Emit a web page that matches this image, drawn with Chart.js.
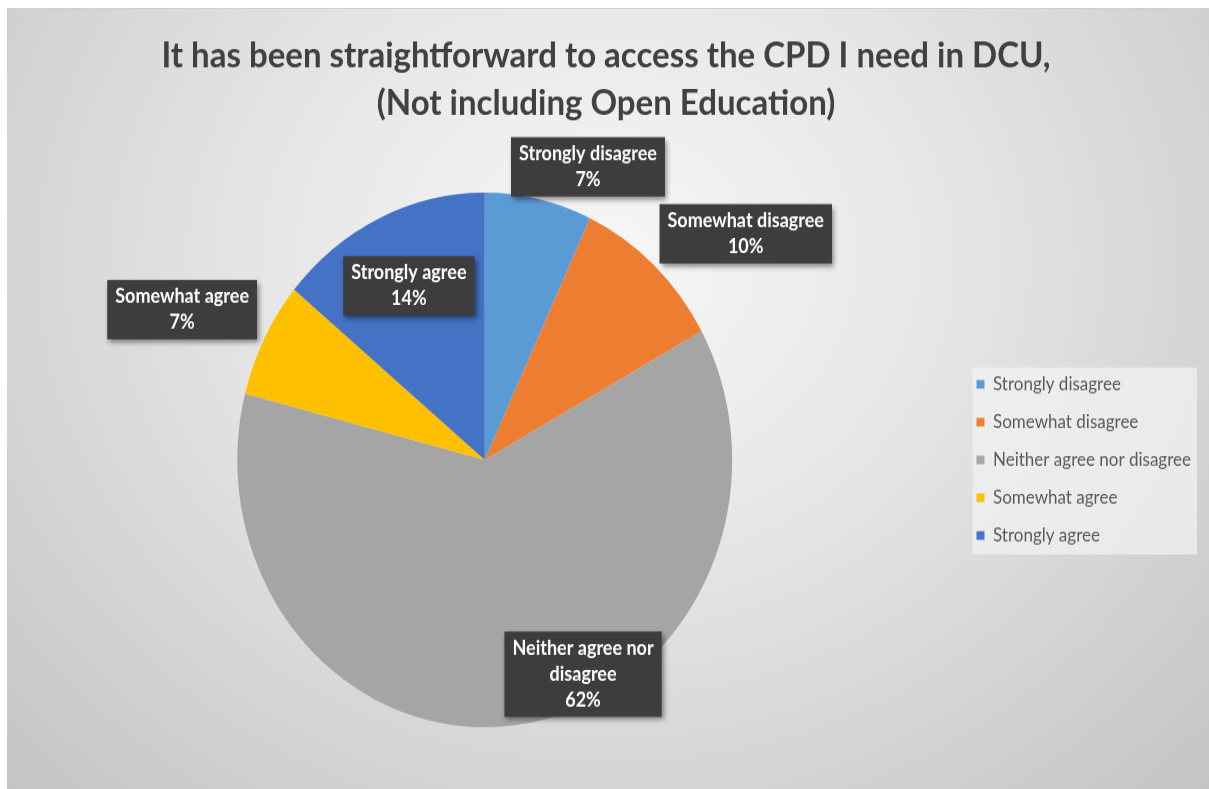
<!DOCTYPE html>
<html>
<head>
<meta charset="utf-8">
<script src="https://cdn.jsdelivr.net/npm/chart.js@4"></script>
<style>
  html, body { margin: 0; padding: 0; background: #fff; }
  #wrap {
    position: absolute; left: 7px; top: 8px; width: 1202px; height: 781px;
    background: radial-gradient(farthest-corner at 50% 32%, #f7f7f7 0%, #e6e6e6 40%, #c4c4c4 100%);
    border-top: 1px solid #cfcfcf;
    box-sizing: border-box;
    overflow: hidden;
  }
  #chart { transform-origin: 0 0; transform: scale(1, 1.08); }
</style>
</head>
<body>
<div id="wrap"><canvas id="chart" width="1202" height="723"></canvas></div>
<script>
const categories = ['Strongly disagree', 'Somewhat disagree', 'Neither agree nor disagree', 'Somewhat agree', 'Strongly agree'];
const percentages = [7, 10, 62, 7, 14];
const sliceColors = ['#5B9BD5', '#ED7D31', '#A5A5A5', '#FFC000', '#4472C4'];
const titleLines = ['It has been straightforward to access the CPD I need in DCU,', '(Not including Open Education)'];

// where each data label sits: distance from centre (x radius) along the slice middle, then a sideways nudge
const labelDist = [1.124, 1.161, 0.808, 1.239, 0.72];
const labelNudge = [0.172, 0.26, 0.296, -0.119, 0.0];

function wrapText(ctx, text, maxW) {
  if (ctx.measureText(text).width <= 180) return [text];
  const words = text.split(' ');
  const lines = [];
  let line = '';
  words.forEach(function(w) {
    const test = line ? line + ' ' + w : w;
    if (ctx.measureText(test).width > maxW && line) {
      lines.push(line);
      line = w;
    } else {
      line = test;
    }
  });
  if (line) lines.push(line);
  return lines;
}

const legendBox = {
  id: 'legendBox',
  beforeDraw(chart) {
    const boxes = chart.legend && chart.legend.legendHitBoxes;
    if (!boxes || !boxes.length) return;
    let l = Infinity, t = Infinity, r = -Infinity, b = -Infinity;
    boxes.forEach(function(h) {
      l = Math.min(l, h.left); t = Math.min(t, h.top);
      r = Math.max(r, h.left + h.width); b = Math.max(b, h.top + h.height);
    });
    const ctx = chart.ctx;
    ctx.save();
    ctx.fillStyle = 'rgba(242,242,242,0.75)';
    ctx.fillRect(l - 4, t - 7, r - l + 10, b - t + 16);
    ctx.restore();
  }
};

const dataLabels = {
  id: 'dataLabels',
  afterDatasetsDraw(chart) {
    const ctx = chart.ctx;
    const meta = chart.getDatasetMeta(0);
    ctx.save();
    ctx.font = 'bold 18px Lato';
    meta.data.forEach(function(arc, i) {
      const p = arc.getProps(['x', 'y', 'startAngle', 'endAngle', 'outerRadius'], true);
      const mid = (p.startAngle + p.endAngle) / 2;
      const R = p.outerRadius;
      const cx = p.x + Math.cos(mid) * R * labelDist[i] + labelNudge[i] * R;
      const cy = p.y + Math.sin(mid) * R * labelDist[i];
      const lines = wrapText(ctx, categories[i], 150).concat([percentages[i] + '%']);
      const lh = 24;
      let w = 0;
      lines.forEach(function(s) { w = Math.max(w, ctx.measureText(s).width); });
      w += 16;
      const h = lines.length * lh + 7;
      ctx.save();
      ctx.shadowColor = 'rgba(0,0,0,0.45)';
      ctx.shadowBlur = 5;
      ctx.shadowOffsetX = 2;
      ctx.shadowOffsetY = 3;
      ctx.fillStyle = '#3d3d3d';
      ctx.fillRect(cx - w / 2, cy - h / 2, w, h);
      ctx.restore();
      ctx.fillStyle = '#ffffff';
      ctx.textAlign = 'center';
      ctx.textBaseline = 'middle';
      lines.forEach(function(s, k) {
        ctx.fillText(s, cx, cy - h / 2 + 3.5 + lh / 2 + k * lh);
      });
    });
    ctx.restore();
  }
};

const ctx = document.getElementById('chart').getContext('2d');
new Chart(ctx, {
  type: 'pie',
  data: {
    labels: categories,
    datasets: [{
      data: percentages,
      backgroundColor: sliceColors,
      borderWidth: 0
    }]
  },
  options: {
    responsive: false,
    devicePixelRatio: 1,
    animation: false,
    layout: { padding: { left: 4, right: 8, top: 0, bottom: 58 } },
    plugins: {
      title: {
        display: true,
        text: titleLines,
        color: '#404040',
        font: { family: 'Lato', size: 33, weight: 'bold', lineHeight: 1.35 },
        padding: { top: 21, bottom: 60 }
      },
      legend: {
        position: 'right',
        fullSize: false,
        labels: {
          boxWidth: 8,
          boxHeight: 8,
          padding: 18,
          color: '#595959',
          font: { family: 'Lato', size: 17 }
        }
      },
      tooltip: { enabled: false }
    }
  },
  plugins: [legendBox, dataLabels]
});
</script>
</body>
</html>
